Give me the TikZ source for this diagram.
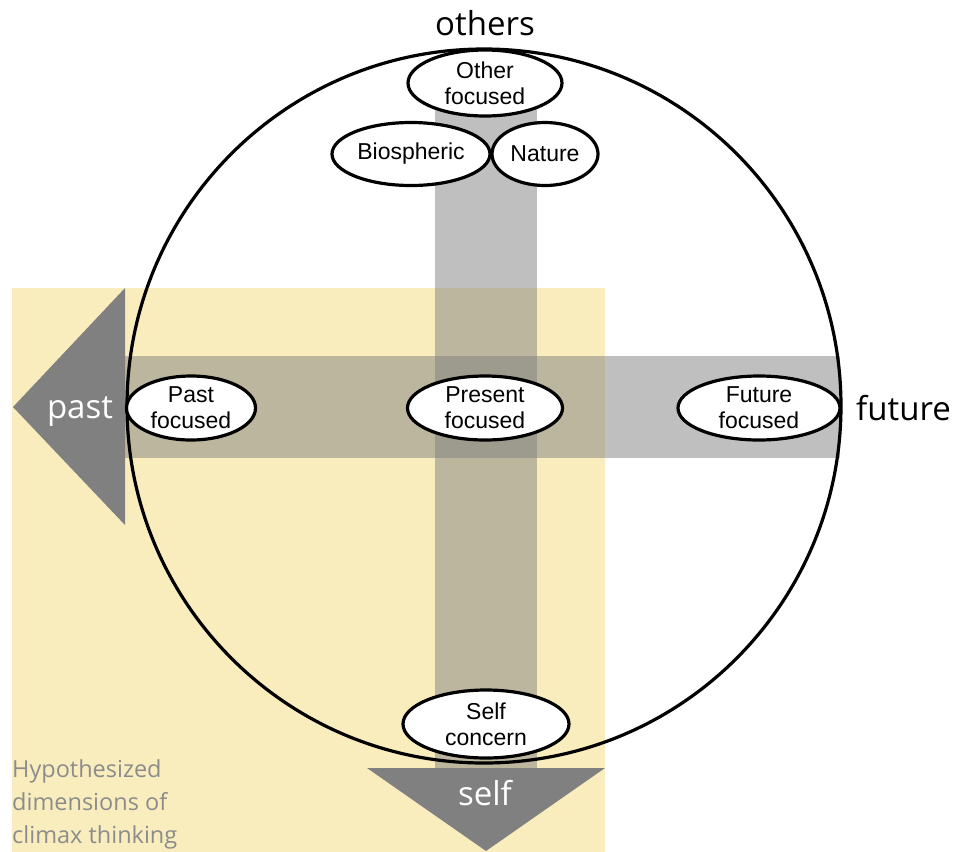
\documentclass[tikz,border=0pt]{standalone}
\usepackage{fontspec}
\setmainfont{Liberation Sans}
\newfontfamily\labfont{Open Sans}
\usetikzlibrary{shapes.geometric}
\definecolor{paleyellow}{HTML}{F9EDBE}
\definecolor{arrowgray}{HTML}{808080}
\definecolor{notegray}{HTML}{8C8C8C}
\begin{document}
\begin{tikzpicture}[x=1pt,y=-1pt,
  oval/.style={ellipse, draw=black, line width=3.2pt, fill=white, inner sep=-6pt,
    align=center, font=\fontsize{23}{26}\selectfont},
  bigword/.style={inner sep=0pt, font=\labfont\fontsize{33}{36}\selectfont},
  bar/.style={fill=arrowgray, fill opacity=0.5},
  bigarrow/.style={fill=arrowgray}]
\useasboundingbox (0,0) rectangle (954,852);
% background
\fill[paleyellow] (12,288) rectangle (605,852);
% bars
\fill[bar] (125,356) rectangle (840,458);
\fill[bar] (435,100) rectangle (537,768);
% arrows
\fill[bigarrow] (125,288) -- (13,407) -- (125,525) -- cycle;
\fill[bigarrow] (367,768) -- (605,768) -- (486,851) -- cycle;
% circle
\draw[line width=3.2pt] (484,406) circle[radius=357];
% ellipses
\node[oval, minimum width=154, minimum height=66] (other) at (485,83) {Other\\focused};
\node[oval, minimum width=158, minimum height=63] (bio) at (411,154) {Biospheric};
\node[oval, minimum width=106, minimum height=63] (nature) at (545,154) {Nature};
\node[oval, minimum width=129, minimum height=64] (pastf) at (191,408) {Past\\focused};
\node[oval, minimum width=155, minimum height=64] (presentf) at (485,408) {Present\\focused};
\node[oval, minimum width=162, minimum height=64] (futuref) at (759,408) {Future\\focused};
\node[oval, minimum width=166, minimum height=68] (self) at (486,724) {Self\\concern};
% labels
\node[bigword, anchor=base] (others) at (485,35) {others};
\node[bigword, anchor=base west] (future) at (856,420) {future};
\node[bigword, anchor=base, text=white] (past) at (80,418) {past};
\node[bigword, anchor=base, text=white] (selfw) at (485,805) {self};
\node[inner sep=0pt, anchor=south west, align=left, text=notegray,
  font=\labfont\fontsize{23.5}{33}\selectfont] (note) at (12,849)
  {Hypothesized\\dimensions of\\climax thinking};
\end{tikzpicture}
\end{document}
